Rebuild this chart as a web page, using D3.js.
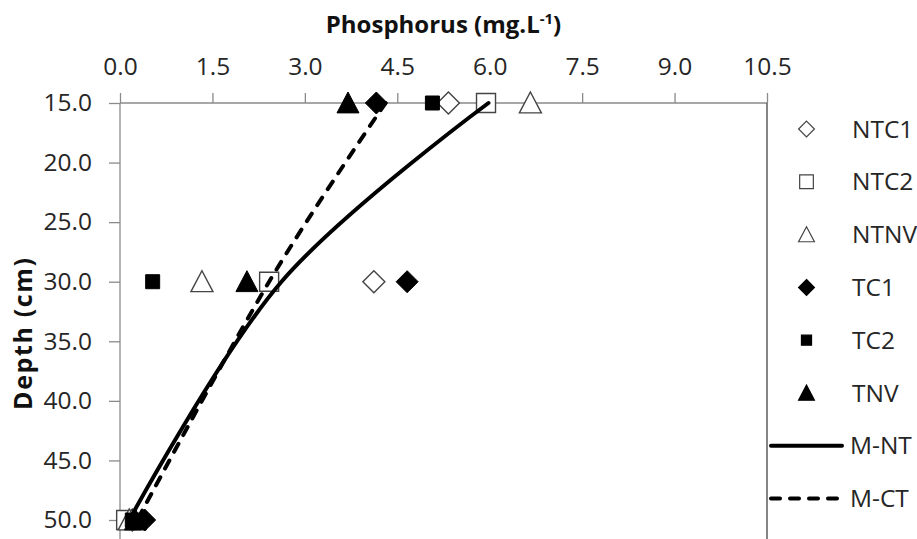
<!DOCTYPE html>
<html>
<head>
<meta charset="utf-8">
<script src="https://cdn.jsdelivr.net/npm/d3@7"></script>
<style>
  body { margin: 0; background: #fff; }
  svg { display: block; font-family: "Open Sans", sans-serif; }
</style>
</head>
<body>
<svg id="chart"></svg>
<script>
let width = 917,
    height = 539;

// depths (cm) and phosphorus values (mg/L)
let depths = [15, 30, 50];
let NTC1 = [5.33, 4.12, 0.20];
let NTC2 = [5.94, 2.42, 0.10];
let NTNV = [6.66, 1.33, 0.15];
let TC1  = [4.16, 4.66, 0.40];
let TC2  = [5.07, 0.53, 0.20];
let TNV  = [3.70, 2.06, 0.25];
let M_NT = [5.98, 2.62, 0.15];
let M_CT = [4.31, 2.42, 0.28];

let xTicks = [0, 1.5, 3, 4.5, 6, 7.5, 9, 10.5];
let yTicks = [15, 20, 25, 30, 35, 40, 45, 50];

let pointSeries = [
    {name: 'NTC1', values: NTC1, shape: 'diamond', filled: false},
    {name: 'NTC2', values: NTC2, shape: 'square', filled: false},
    {name: 'NTNV', values: NTNV, shape: 'triangle', filled: false},
    {name: 'TC1',  values: TC1,  shape: 'diamond', filled: true},
    {name: 'TC2',  values: TC2,  shape: 'smallsquare', filled: true},
    {name: 'TNV',  values: TNV,  shape: 'triangle', filled: true}
];
let lineSeries = [
    {name: 'M-NT', values: M_NT, dash: null},
    {name: 'M-CT', values: M_CT, dash: '9,10'}
];

let x = d3.scaleLinear().domain([0, 10.5]).range([120, 767]);
let y = d3.scaleLinear().domain([15, 50]).range([103, 520]);

let svg = d3.select('#chart')
    .attr('width', width)
    .attr('height', height);

// marker outlines, centred on 0,0
function shapePath(shape, k) {
    let p = d3.path();
    if (shape == 'diamond') {
        let r = 11 * k;
        p.moveTo(0, -r); p.lineTo(r, 0); p.lineTo(0, r); p.lineTo(-r, 0); p.closePath();
    } else if (shape == 'square') {
        let r = 9.5 * k;
        p.rect(-r, -r, 2 * r, 2 * r);
    } else if (shape == 'smallsquare') {
        let r = 7 * k;
        p.rect(-r, -r, 2 * r, 2 * r);
    } else {
        let w = 11 * k, h = 11 * k;
        p.moveTo(0, -h); p.lineTo(w, h * 0.9); p.lineTo(-w, h * 0.9); p.closePath();
    }
    return p.toString();
}

// axes
let xAxis = svg.append('g')
    .attr('transform', 'translate(0,103)')
    .call(d3.axisTop(x).tickValues(xTicks).tickSize(10).tickPadding(18)
        .tickFormat(d3.format('.1f')));
let yAxis = svg.append('g')
    .attr('transform', 'translate(120,0)')
    .call(d3.axisLeft(y).tickValues(yTicks).tickSize(11).tickPadding(17)
        .tickFormat(d3.format('.1f')));

[xAxis, yAxis].forEach(function(a) {
    a.select('.domain').remove();
    a.selectAll('line').attr('stroke', '#8a8a8a').attr('stroke-width', 1.3);
    a.selectAll('text')
        .attr('fill', '#262626')
        .style('font-size', '24.5px')
        .style('font-family', '"Open Sans", sans-serif');
});

// plot frame: top axis line, left axis, right border
svg.append('line').attr('x1', 120).attr('x2', 767).attr('y1', 103).attr('y2', 103)
    .attr('stroke', '#8a8a8a').attr('stroke-width', 1.3);
svg.append('line').attr('x1', 120).attr('x2', 120).attr('y1', 103).attr('y2', 560)
    .attr('stroke', '#8a8a8a').attr('stroke-width', 1.3);
svg.append('line').attr('x1', 767).attr('x2', 767).attr('y1', 103).attr('y2', 560)
    .attr('stroke', '#444').attr('stroke-width', 1.3);

// axis titles
let title = svg.append('text')
    .attr('x', 443.5)
    .attr('y', 33)
    .attr('text-anchor', 'middle')
    .style('font-weight', 'bold')
    .style('font-size', '24px')
    .attr('fill', '#111');
title.append('tspan').text('Phosphorus (mg.L');
title.append('tspan').attr('dy', -9).style('font-size', '15px').text('-1');
title.append('tspan').attr('dy', 9).text(')');

svg.append('text')
    .attr('transform', 'translate(32,334) rotate(-90)')
    .attr('text-anchor', 'middle')
    .style('font-weight', 'bold')
    .style('font-size', '25px')
    .attr('textLength', 152)
    .attr('lengthAdjust', 'spacing')
    .attr('fill', '#111')
    .text('Depth (cm)');

// scatter markers
pointSeries.forEach(function(s) {
    svg.append('g').selectAll('path')
        .data(s.values)
        .enter()
        .append('path')
        .attr('d', shapePath(s.shape, 1))
        .attr('transform', function(d, i) {
            return 'translate(' + x(d) + ',' + y(depths[i]) + ')';
        })
        .attr('fill', s.filled ? '#000' : '#fff')
        .attr('stroke', s.filled ? '#000' : '#444')
        .attr('stroke-width', s.filled ? 1 : 1.4);
});

// smoothed mean lines
let line = d3.line()
    .x(function(d) { return x(d[0]); })
    .y(function(d) { return y(d[1]); })
    .curve(d3.curveCardinal.tension(0));

lineSeries.forEach(function(s) {
    svg.append('path')
        .datum(s.values.map(function(v, i) { return [v, depths[i]]; }))
        .attr('d', line)
        .attr('fill', 'none')
        .attr('stroke', '#000')
        .attr('stroke-width', 4)
        .attr('stroke-linecap', 'round')
        .attr('stroke-dasharray', s.dash);
});

// legend
let legendTop = 129, legendStep = 52.8;
let legend = svg.append('g');

pointSeries.forEach(function(s, i) {
    let ly = legendTop + i * legendStep;
    legend.append('path')
        .attr('d', shapePath(s.shape, 0.72))
        .attr('transform', 'translate(806.5,' + ly + ')')
        .attr('fill', s.filled ? '#000' : '#fff')
        .attr('stroke', s.filled ? '#000' : '#444')
        .attr('stroke-width', 1.2);
    legend.append('text')
        .attr('x', 852)
        .attr('y', ly)
        .attr('dy', '0.35em')
        .style('font-size', '24.5px')
        .attr('fill', '#262626')
        .text(s.name);
});

lineSeries.forEach(function(s, i) {
    let ly = legendTop + (i + pointSeries.length) * legendStep;
    legend.append('line')
        .attr('x1', 771).attr('x2', 842)
        .attr('y1', ly).attr('y2', ly)
        .attr('stroke', '#000')
        .attr('stroke-width', 4)
        .attr('stroke-linecap', 'round')
        .attr('stroke-dasharray', s.dash);
    legend.append('text')
        .attr('x', 850)
        .attr('y', ly)
        .attr('dy', '0.35em')
        .style('font-size', '24.5px')
        .attr('fill', '#262626')
        .text(s.name);
});
</script>
</body>
</html>
